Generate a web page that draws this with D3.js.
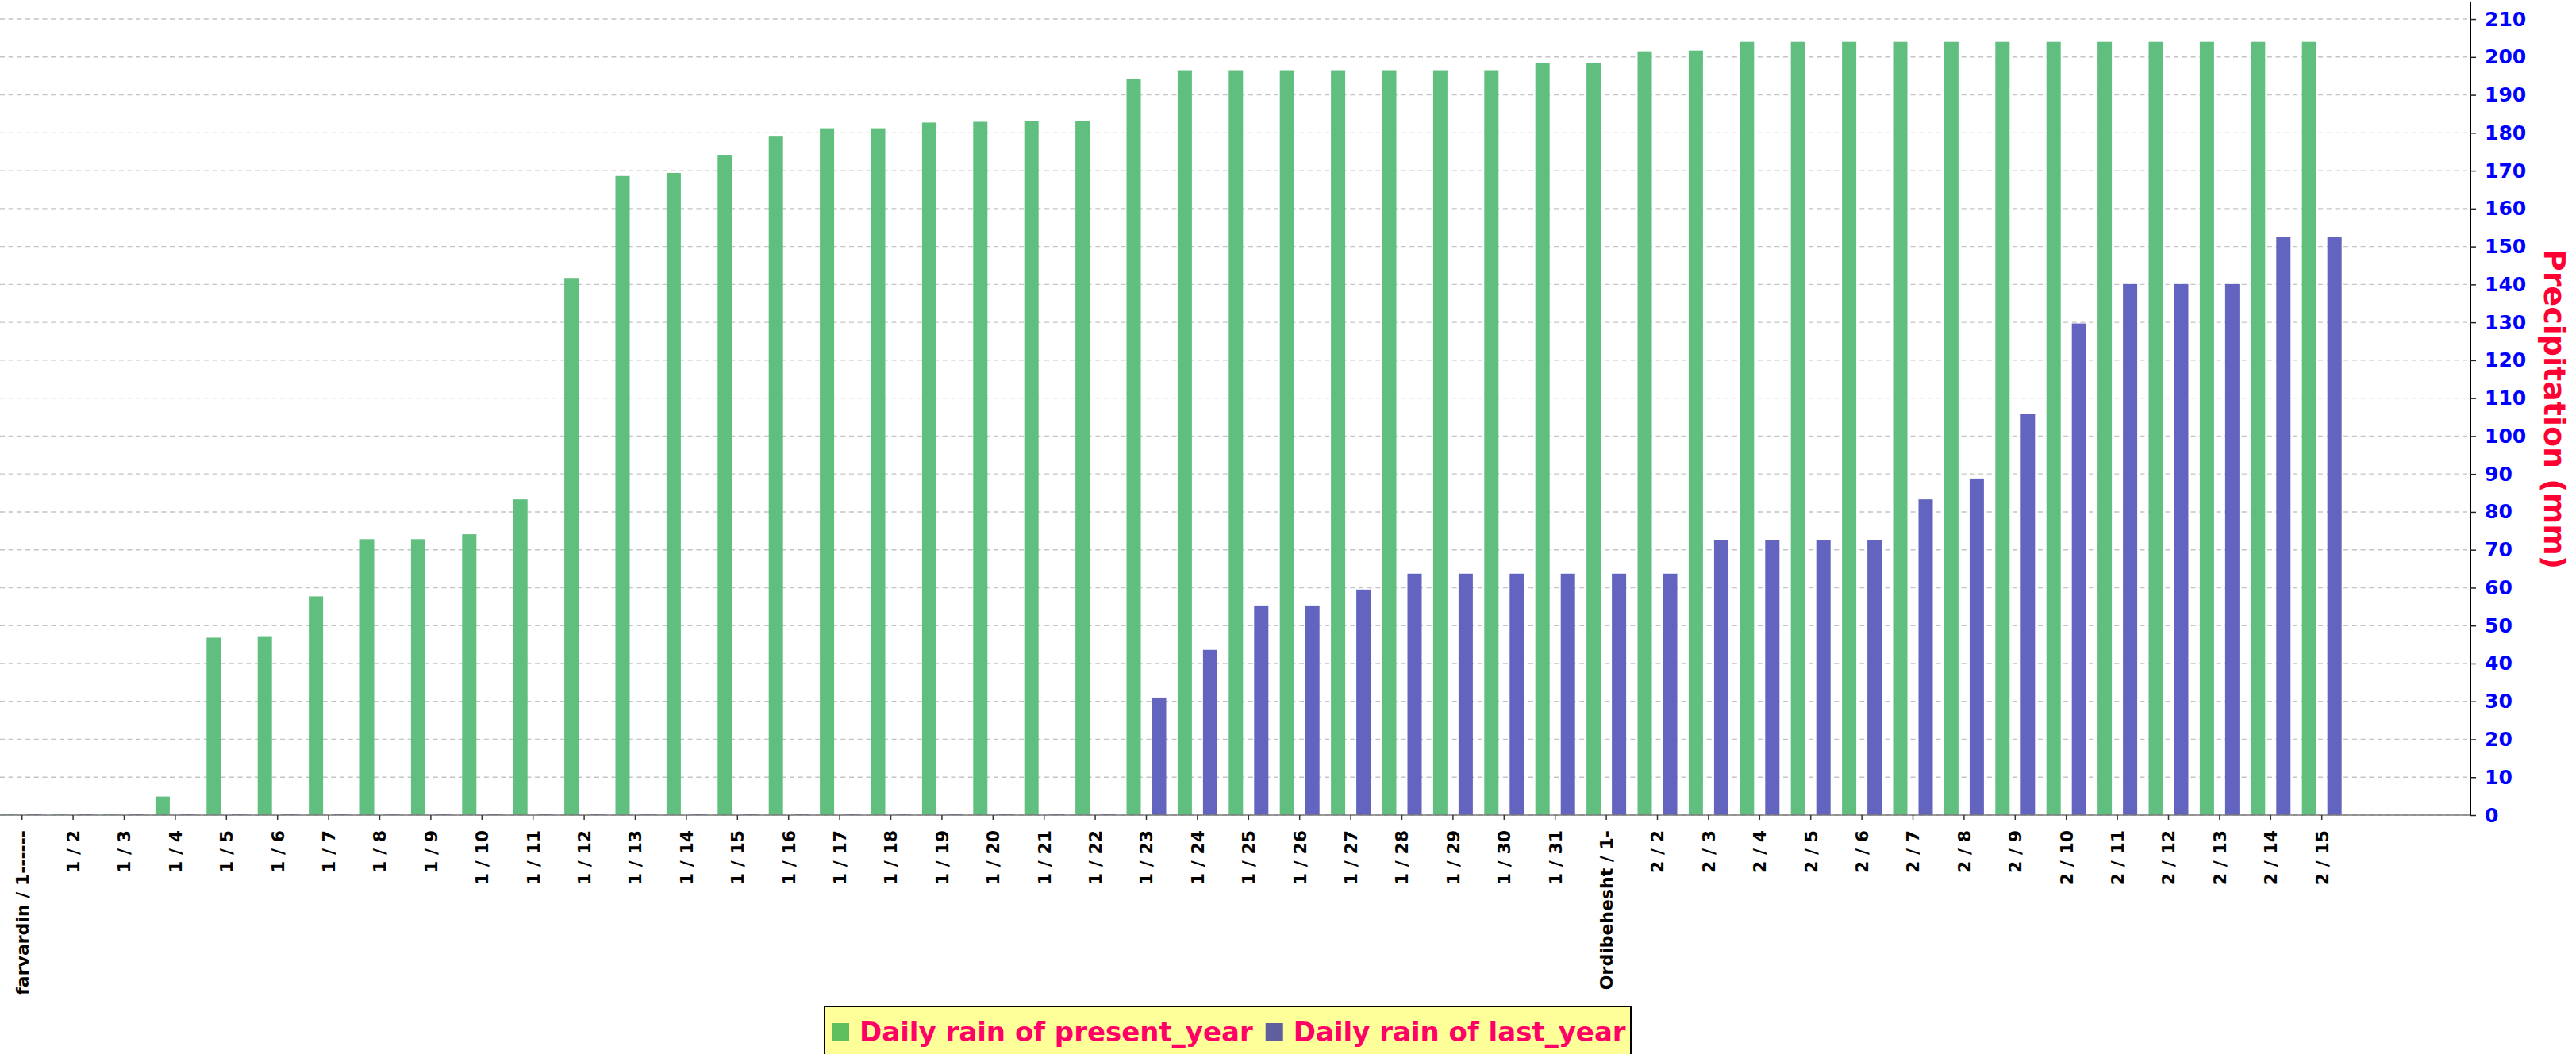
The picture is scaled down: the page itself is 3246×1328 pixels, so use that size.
<!DOCTYPE html>
<html>
<head>
<meta charset="utf-8">
<script src="https://cdn.jsdelivr.net/npm/d3@7"></script>
<style>
  html, body { margin: 0; padding: 0; background: #ffffff; }
  svg { display: block; }
</style>
</head>
<body>
<svg id="chart" width="3246" height="1328"></svg>
<script>
// ---- data ----
const categories = [
  "farvardin / 1------", "1 / 2", "1 / 3", "1 / 4", "1 / 5", "1 / 6", "1 / 7", "1 / 8", "1 / 9", "1 / 10",
  "1 / 11", "1 / 12", "1 / 13", "1 / 14", "1 / 15", "1 / 16", "1 / 17", "1 / 18", "1 / 19", "1 / 20",
  "1 / 21", "1 / 22", "1 / 23", "1 / 24", "1 / 25", "1 / 26", "1 / 27", "1 / 28", "1 / 29", "1 / 30",
  "1 / 31", "Ordibehesht / 1-", "2 / 2", "2 / 3", "2 / 4", "2 / 5", "2 / 6", "2 / 7", "2 / 8", "2 / 9",
  "2 / 10", "2 / 11", "2 / 12", "2 / 13", "2 / 14", "2 / 15"
];
const presentYear = [
  0, 0, 0, 4.9, 46.8, 47.2, 57.7, 72.8, 72.8, 74.1,
  83.3, 141.7, 168.6, 169.4, 174.2, 179.2, 181.2, 181.2, 182.7, 182.9,
  183.2, 183.2, 194.2, 196.5, 196.5, 196.5, 196.5, 196.5, 196.5, 196.5,
  198.4, 198.4, 201.5, 201.7, 204, 204, 204, 204, 204, 204,
  204, 204, 204, 204, 204, 204
];
const lastYear = [
  0, 0, 0, 0, 0, 0, 0, 0, 0, 0.3,
  0.3, 0.3, 0.3, 0.3, 0.3, 0.3, 0.3, 0.3, 0.3, 0.3,
  0.3, 0.3, 31.0, 43.6, 55.3, 55.3, 59.5, 63.7, 63.7, 63.7,
  63.7, 63.7, 63.7, 72.6, 72.6, 72.6, 72.6, 83.3, 88.8, 105.9,
  129.7, 140.1, 140.1, 140.1, 152.6, 152.6
];
const seriesNames = ["Daily rain of present_year", "Daily rain of last_year"];
const seriesKeys = ["present", "last"];
const yTicks = [0, 10, 20, 30, 40, 50, 60, 70, 80, 90, 100, 110, 120, 130, 140, 150, 160, 170, 180, 190, 200, 210];
const yTitle = "Precipitation (mm)";

// ---- style ----
const barColors = { present: "#60bf7e", last: "#6264bf" };
const legendColors = { present: "#5fbf5f", last: "#5f5f9f" };
const FONT = "'DejaVu Sans', sans-serif";

const svg = d3.select("#chart");

const plotLeft = 0, plotRight = 3113, plotTop = 4, plotBottom = 1027;

const y = d3.scaleLinear()
  .domain([0, d3.max(presentYear) * 1.05])
  .range([plotBottom, plotTop]);

const x = d3.scaleBand()
  .domain(categories)
  .range([-4.5, -4.5 + 64.4 * categories.length])
  .padding(0);

const xSub = d3.scaleBand()
  .domain(seriesKeys)
  .range([0, x.bandwidth()])
  .paddingInner(0.4375)
  .paddingOuter(0.225);

// gridlines
svg.append("g")
  .selectAll("line")
  .data(yTicks)
  .join("line")
  .attr("x1", plotLeft).attr("x2", plotRight)
  .attr("y1", d => y(d)).attr("y2", d => y(d))
  .attr("stroke", "#c4c4c4")
  .attr("stroke-width", 1.4)
  .attr("stroke-dasharray", "6,4.7");

// bars
const rows = categories.map((c, i) => ({ cat: c, present: presentYear[i], last: lastYear[i] }));
const gBars = svg.append("g");
seriesKeys.forEach(k => {
  gBars.append("g")
    .selectAll("rect")
    .data(rows)
    .join("rect")
    .attr("x", d => x(d.cat) + xSub(k))
    .attr("width", xSub.bandwidth())
    .attr("y", d => Math.min(y(d[k]), plotBottom - 1.5))
    .attr("height", d => Math.max(plotBottom - y(d[k]), 1.5))
    .attr("fill", barColors[k]);
});

// x axis baseline
svg.append("line")
  .attr("x1", plotLeft).attr("x2", plotRight)
  .attr("y1", plotBottom).attr("y2", plotBottom)
  .attr("stroke", "#7a7a7a").attr("stroke-width", 1.5);

// x ticks & labels
const xAxisG = svg.append("g")
  .attr("transform", `translate(0,${plotBottom})`)
  .call(d3.axisBottom(x).tickSize(6).tickSizeOuter(0).tickPadding(0));
xAxisG.select(".domain").remove();
xAxisG.selectAll(".tick line").attr("stroke", "#333").attr("stroke-width", 1.5);
xAxisG.selectAll(".tick text")
  .attr("font-family", FONT)
  .attr("font-weight", "bold")
  .attr("font-size", 22)
  .attr("fill", "#000")
  .attr("text-anchor", "end")
  .attr("transform", "rotate(-90)")
  .attr("x", -19)
  .attr("y", 0)
  .attr("dy", "0.36em");

// y axis on the right
const yAxisG = svg.append("g")
  .attr("transform", `translate(${plotRight},0)`)
  .call(d3.axisRight(y).tickValues(yTicks).tickSize(7).tickSizeOuter(0).tickPadding(11));
yAxisG.select(".domain")
  .attr("d", `M0,${plotTop - 2}V${plotBottom}`)
  .attr("stroke", "#000").attr("stroke-width", 2);
yAxisG.selectAll(".tick line").attr("stroke", "#222").attr("stroke-width", 1.5);
yAxisG.selectAll(".tick text")
  .attr("font-family", FONT)
  .attr("font-weight", "bold")
  .attr("font-size", 25)
  .attr("fill", "#0000ff");

// y title
svg.append("text")
  .attr("transform", `translate(3206,${(plotTop + plotBottom) / 2}) rotate(90)`)
  .attr("text-anchor", "middle")
  .attr("font-family", FONT)
  .attr("font-weight", "bold")
  .attr("font-size", 38)
  .attr("fill", "#ff0033")
  .text(yTitle);

// legend
const legend = svg.append("g");
legend.append("rect")
  .attr("x", 1039).attr("y", 1268)
  .attr("width", 1016).attr("height", 80)
  .attr("fill", "#ffff99")
  .attr("stroke", "#000").attr("stroke-width", 2);
let lx = 1048;
seriesKeys.forEach((k, i) => {
  legend.append("rect")
    .attr("x", lx).attr("y", 1289)
    .attr("width", 22).attr("height", 22)
    .attr("fill", legendColors[k]);
  const t = legend.append("text")
    .attr("x", lx + 35).attr("y", 1312)
    .attr("font-family", FONT)
    .attr("font-weight", "bold")
    .attr("font-size", 34)
    .attr("fill", "#ff0066")
    .text(seriesNames[i]);
  lx = lx + 35 + t.node().getComputedTextLength() + 16;
});
</script>
</body>
</html>
